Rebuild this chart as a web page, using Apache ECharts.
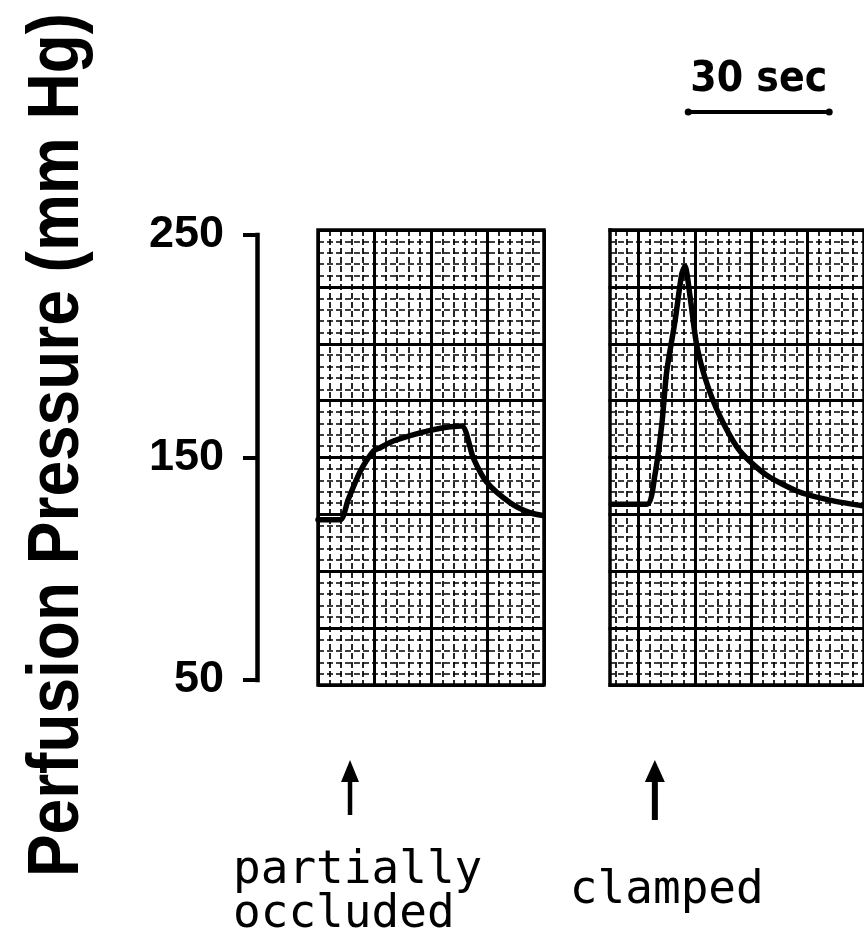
<!DOCTYPE html>
<html><head><meta charset="utf-8">
<script src="https://cdn.jsdelivr.net/npm/echarts@6/dist/echarts.min.js"></script>
<style>html,body{margin:0;padding:0;background:#fff}#c{width:864px;height:941px}</style>
</head><body><div id="c"></div>
<script>
// ---------------- data ----------------
const yTicks = [50, 150, 250];                       // mm Hg
const axisTitle = 'Perfusion Pressure (mm Hg)';
// panel 1 : partially occluded (time in s from the panel's left edge)
const p1Time     = [0, 4.7, 6.4, 8.9, 11.7, 13.2, 16, 21.7, 26.6, 30.5, 33, 35.8, 40.8, 45, 47.8];
const p1Pressure = [122, 122, 131, 143.5, 152.7, 154.4, 157.4, 161.1, 163.4, 164.2, 149.7, 139, 129.7, 125.2, 123.9];
// panel 2 : clamped (time in s on the paper axis of panel 2)
const p2Time     = [6.2, 13.8, 15.5, 17, 18, 19.8, 21.2, 21.9, 23, 24.4, 26.5, 29.4, 33.6, 39.3, 46.4, 53.5, 60];
const p2Pressure = [129, 129, 142, 165.3, 188.3, 211.4, 232.2, 236, 222.2, 200.6, 183.7, 168.3, 152.9, 142, 134.4, 130.5, 128.2];
const eventTimes  = [6.8, 15.5];
const eventLabels = [['partially', 'occluded'], ['clamped']];
const scaleBarStart = 22.6, scaleBarLength = 30, scaleBarLabel = '30 sec';

// ---------------- layout ----------------
const AX_TOP = 235, AX_BOT = 680;     // pixel rows of 250 and 50
const PAN_TOP = 230, PAN_BOT = 685;
const pxPerUnit = (AX_BOT - AX_TOP) / (yTicks[2] - yTicks[0]);
const panMax = yTicks[2] + (AX_TOP - PAN_TOP) / pxPerUnit;
const panMin = yTicks[0] - (PAN_BOT - AX_BOT) / pxPerUnit;

const chart = echarts.init(document.getElementById('c'), null, {renderer: 'canvas'});
const paperSplit = {show: true, lineStyle: {color: '#000', width: 3}};
const paperMinor = {show: true, lineStyle: {color: '#000', width: 1.7, type: [6, 3]}};
function paperX(g, max) {
  return {type: 'value', gridIndex: g, min: 0, max: max, interval: 12,
    axisLine: {show: false}, axisTick: {show: false}, axisLabel: {show: false},
    splitLine: paperSplit, minorTick: {show: false, splitNumber: 5}, minorSplitLine: paperMinor};
}
function paperY(g) {
  return {type: 'value', gridIndex: g, min: 0, max: 8, interval: 1,
    axisLine: {show: false}, axisTick: {show: false}, axisLabel: {show: false},
    splitLine: paperSplit, minorTick: {show: false, splitNumber: 5}, minorSplitLine: paperMinor};
}
function pressY(g) { return {type: 'value', gridIndex: g, min: panMin, max: panMax, show: false}; }
const traceStyle = {color: '#000', width: 5.5, cap: 'round', join: 'round'};

chart.setOption({
  animation: false,
  backgroundColor: '#fff',
  grid: [
    {left: 257, top: AX_TOP, width: 1, height: AX_BOT - AX_TOP, show: false},
    {left: 318, top: PAN_TOP, width: 226, height: PAN_BOT - PAN_TOP, show: true, borderColor: '#000', borderWidth: 3.5, backgroundColor: '#fff'},
    {left: 582, top: PAN_TOP, width: 282, height: PAN_BOT - PAN_TOP, show: true, borderColor: '#000', borderWidth: 3.5, backgroundColor: '#fff'}
  ],
  xAxis: [
    {type: 'value', gridIndex: 0, show: false},
    paperX(1, 48),
    paperX(2, 60)
  ],
  yAxis: [
    {type: 'value', gridIndex: 0, min: yTicks[0], max: yTicks[2], interval: yTicks[1] - yTicks[0],
      axisLine: {show: true, lineStyle: {color: '#000', width: 4.5, cap: 'square'}},
      axisTick: {show: true, length: 14, lineStyle: {color: '#000', width: 4}},
      axisLabel: {color: '#000', fontSize: 45, fontWeight: 'bold', fontFamily: 'Liberation Sans', margin: 33},
      splitLine: {show: false}},
    pressY(1), paperY(1),
    pressY(2), paperY(2)
  ],
  series: [
    {type: 'line', xAxisIndex: 1, yAxisIndex: 1, data: p1Time.map((t, i) => [t, p1Pressure[i]]),
      showSymbol: false, smooth: 0.25, lineStyle: traceStyle, z: 10, silent: true},
    {type: 'line', xAxisIndex: 2, yAxisIndex: 3, data: p2Time.map((t, i) => [t, p2Pressure[i]]),
      showSymbol: false, smooth: 0.25, lineStyle: traceStyle, z: 10, silent: true}
  ]
});

// ---------------- annotations positioned through the axes ----------------
const ev1 = chart.convertToPixel({xAxisIndex: 1}, eventTimes[0]);
const ev2 = chart.convertToPixel({xAxisIndex: 2}, eventTimes[1]);
const bx1 = chart.convertToPixel({xAxisIndex: 2}, scaleBarStart);
const bx2 = chart.convertToPixel({xAxisIndex: 2}, scaleBarStart + scaleBarLength);

function arrow(x, tip, bottom, half, shaft) {
  return [
    {type: 'line', shape: {x1: x, y1: bottom, x2: x, y2: tip + 15}, style: {stroke: '#000', lineWidth: shaft}, z: 60},
    {type: 'polygon', shape: {points: [[x - half, tip + 22], [x + half, tip + 22], [x, tip]]}, style: {fill: '#000'}, z: 60}
  ];
}
const monoFont = '46px "DejaVu Sans Mono"';
chart.setOption({
  graphic: [
    // hide the part of panel 2 paper that lies before its cut edge
    {type: 'rect', shape: {x: 560, y: 220, width: 48.5, height: 475}, style: {fill: '#fff'}, z: 50},
    {type: 'line', shape: {x1: 610, y1: PAN_TOP - 1.75, x2: 610, y2: PAN_BOT + 1.75}, style: {stroke: '#000', lineWidth: 3.5}, z: 51},
    // y-axis title
    {type: 'text', x: 58, y: 445, rotation: Math.PI / 2, scaleY: 1.12, z: 60,
      style: {text: axisTitle, font: 'bold 64px "Liberation Sans"', fill: '#000', align: 'center', verticalAlign: 'middle'}},
    // scale bar
    {type: 'line', shape: {x1: bx1, y1: 112, x2: bx2, y2: 112}, style: {stroke: '#000', lineWidth: 4, lineCap: 'round'}, z: 60},
    {type: 'circle', shape: {cx: bx1, cy: 112, r: 3.5}, style: {fill: '#000'}, z: 60},
    {type: 'circle', shape: {cx: bx2, cy: 112, r: 3.5}, style: {fill: '#000'}, z: 60},
    {type: 'text', x: (bx1 + bx2) / 2, y: 80, scaleY: 1.1, z: 60,
      style: {text: scaleBarLabel, font: 'bold 38px "DejaVu Sans"', fill: '#000', align: 'center', verticalAlign: 'middle'}},
    // event arrows
    ...arrow(ev1, 760, 815, 9, 4.5),
    ...arrow(ev2, 760, 820, 10, 6),
    // event labels
    {type: 'text', x: ev1 - 117, y: 871, z: 60, style: {text: eventLabels[0][0], font: monoFont, fill: '#000', align: 'left', verticalAlign: 'middle'}},
    {type: 'text', x: ev1 - 117, y: 915, z: 60, style: {text: eventLabels[0][1], font: monoFont, fill: '#000', align: 'left', verticalAlign: 'middle'}},
    {type: 'text', x: ev2 - 85, y: 891, z: 60, style: {text: eventLabels[1][0], font: monoFont, fill: '#000', align: 'left', verticalAlign: 'middle'}}
  ]
});
</script>
</body></html>
